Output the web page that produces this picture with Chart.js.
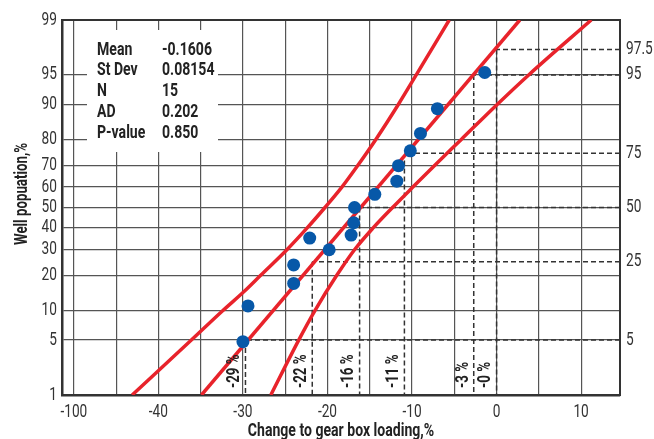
<!DOCTYPE html>
<html>
<head>
<meta charset="utf-8">
<script src="https://cdn.jsdelivr.net/npm/chart.js@4.4.1/dist/chart.umd.min.js"></script>
<style>
  body { margin: 0; background: #fff; }
  #wrap { width: 654px; height: 439px; }
</style>
</head>
<body>
<div id="wrap"><canvas id="probChart"></canvas></div>
<script>
// normal probability plot - gear box loading

// ---- data ----
// observations: x = change (%), y = cumulative percent
const obsX = [-30.0, -29.4, -24.0, -24.0, -22.1, -19.8, -17.2, -16.9, -16.8, -14.4, -11.8, -11.6, -10.2, -9.0, -7.0, -1.4];
const obsP = [4.8, 11.1, 17.3, 23.8, 35.2, 30.0, 36.6, 42.5, 50.0, 56.5, 62.8, 69.8, 75.9, 82.1, 89.0, 95.3];

// fitted line (ends at 1% and 99%)
const fitX = [-34.9, 2.75];
const fitP = [1, 99];

// confidence bands
const upperP = [1, 5, 10, 15, 20, 30, 40, 50, 60, 70, 80, 90, 95, 99];
const upperX = [-43.1, -36.1, -32.4, -29.8, -27.9, -24.8, -22.4, -20.3, -18.3, -16.4, -14.3, -11.6, -9.5, -5.6];
const lowerP = [1, 5, 10, 20, 30, 40, 50, 60, 70, 80, 90, 95, 99];
const lowerX = [-26.7, -23.4, -21.5, -18.9, -16.8, -14.6, -12.3, -9.9, -7.3, -4.2, 0.1, 3.8, 11.2];

// dashed reference lines
const refP = [5, 25, 50, 75, 95, 97.5];
const refHX = [-29.7, -21.8, -16.2, -9.8, -2.7, 0];   // where the horizontal dash starts
const refVX = [-29.7, -21.8, -16.2, -10.9, -2.7, 0];  // vertical dash position
const refVTop = [5, 25, 50, 72, 95, 97.5];
const refLabels = ["-29 %", "-22 %", "-16 %", "-11 %", "-3 %", "-0 %"];

// stats box
const statNames = ["Mean", "St Dev", "N", "AD", "P-value"];
const statValues = ["-0.1606", "0.08154", "15", "0.202", "0.850"];

// axes
const xGridValues = [-50, -45, -40, -35, -30, -25, -20, -15, -10, -5, 0, 5, 10];
const xTickValues = [-50, -40, -30, -20, -10, 0, 10];
const xTickText = ["-100", "-40", "-30", "-20", "-10", "0", "10"];
const yTicks = [1, 5, 10, 20, 30, 40, 50, 60, 70, 80, 90, 95, 99];
const rightTicks = [5, 25, 50, 75, 95, 97.5];

const FONT = "Roboto, 'Liberation Sans', sans-serif";
const SQUEEZE = 0.76; // no condensed font installed, so text is narrowed
const RED = "#e8232b";
const BLUE = "#0758a8";
const DASH = "#333";

// inverse normal cdf (Acklam)
function qnorm(p) {
    const a = [-3.969683028665376e+01, 2.209460984245205e+02, -2.759285104469687e+02, 1.383577518672690e+02, -3.066479806614716e+01, 2.506628277459239e+00];
    const b = [-5.447609879822406e+01, 1.615858368580409e+02, -1.556989798598866e+02, 6.680131188771972e+01, -1.328068155288572e+01];
    const c = [-7.784894002430293e-03, -3.223964580411365e-01, -2.400758277161838e+00, -2.549732539343734e+00, 4.374664141464968e+00, 2.938163982698783e+00];
    const d = [7.784695709041462e-03, 3.224671290700398e-01, 2.445134137142996e+00, 3.754408661907416e+00];
    const plow = 0.02425;
    let q, r;
    if (p < plow) {
        q = Math.sqrt(-2 * Math.log(p));
        return (((((c[0]*q+c[1])*q+c[2])*q+c[3])*q+c[4])*q+c[5]) / ((((d[0]*q+d[1])*q+d[2])*q+d[3])*q+1);
    }
    if (p > 1 - plow) {
        q = Math.sqrt(-2 * Math.log(1 - p));
        return -(((((c[0]*q+c[1])*q+c[2])*q+c[3])*q+c[4])*q+c[5]) / ((((d[0]*q+d[1])*q+d[2])*q+d[3])*q+1);
    }
    q = p - 0.5; r = q * q;
    return (((((a[0]*r+a[1])*r+a[2])*r+a[3])*r+a[4])*r+a[5])*q / (((((b[0]*r+b[1])*r+b[2])*r+b[3])*r+b[4])*r+1);
}

// probability scale: values are percents, spaced by normal quantile
class ProbabilityScale extends Chart.LinearScale {
    determineDataLimits() {
        this.min = this.options.min;
        this.max = this.options.max;
    }
    buildTicks() {
        return this.options.tickValues.map(v => ({ value: v }));
    }
    getPixelForValue(value) {
        const lo = qnorm(this.min / 100), hi = qnorm(this.max / 100);
        return this.getPixelForDecimal((qnorm(value / 100) - lo) / (hi - lo));
    }
}
ProbabilityScale.id = "probability";
ProbabilityScale.defaults = {};
Chart.register(ProbabilityScale);

function pts(xs, ps) {
    return xs.map((x, i) => ({ x: x, y: ps[i] }));
}

const X_MAX = 14.6;

// build the datasets
const bandStyle = { type: "line", borderColor: RED, borderWidth: 3.5, pointRadius: 0, cubicInterpolationMode: "monotone" };
const datasets = [
    { type: "scatter", data: pts(obsX, obsP), backgroundColor: BLUE, pointRadius: 6.5, borderWidth: 0 },
    { type: "line", data: pts(fitX, fitP), borderColor: RED, borderWidth: 3.5, pointRadius: 0 },
    Object.assign({ data: pts(upperX, upperP) }, bandStyle),
    Object.assign({ data: pts(lowerX, lowerP) }, bandStyle)
];
refP.forEach((p, i) => {
    datasets.push({ type: "line", data: [{ x: X_MAX, y: p }, { x: refHX[i], y: p }],
        borderColor: DASH, borderWidth: 1.5, borderDash: [5, 3], pointRadius: 0 });
    datasets.push({ type: "line", data: [{ x: refVX[i], y: refVTop[i] }, { x: refVX[i], y: 1 }],
        borderColor: DASH, borderWidth: 1.5, borderDash: [5, 3], pointRadius: 0 });
});

// narrow every fillText on the chart canvas
const squeezeText = {
    id: "squeezeText",
    beforeDraw(chart) {
        const ctx = chart.ctx;
        if (ctx._squeezed) return;
        const orig = ctx.fillText;
        ctx.fillText = function (t, x, y, maxW) {
            let w = this.measureText(t).width * SQUEEZE;
            if (maxW !== undefined) w = Math.min(w, maxW);
            orig.call(this, t, x, y, w);
        };
        ctx._squeezed = true;
    }
};

// stats box + y title + rotated % labels
const extras = {
    id: "extras",
    beforeDatasetsDraw(chart) {
        const ctx = chart.ctx;
        ctx.save();
        ctx.fillStyle = "#fff";
        ctx.fillRect(87, 30, 131, 122);
        ctx.fillStyle = "#222";
        ctx.font = "bold 18.5px " + FONT;
        ctx.textBaseline = "middle";
        statNames.forEach((s, i) => {
            ctx.fillText(s, 97, 50 + i * 20.8);
            ctx.fillText(statValues[i], 162, 50 + i * 20.8);
        });
        ctx.restore();
    },
    afterDatasetsDraw(chart) {
        const ctx = chart.ctx;
        const xs = chart.scales.x;
        ctx.save();
        ctx.fillStyle = "#222";
        ctx.font = "bold 17.5px " + FONT;
        ctx.textBaseline = "middle";
        ctx.textAlign = "left";
        refLabels.forEach((t, i) => {
            ctx.save();
            ctx.translate(xs.getPixelForValue(refVX[i]) - 10.5, chart.chartArea.bottom - 7);
            ctx.rotate(-Math.PI / 2);
            ctx.fillText(t, 0, 0);
            ctx.restore();
        });
        // y axis title
        ctx.font = "bold 17.5px " + FONT;
        ctx.textAlign = "center";
        ctx.translate(23, 194);
        ctx.rotate(-Math.PI / 2);
        ctx.fillText("Well popuation,%", 0, 0);
        ctx.restore();
    }
};

Chart.defaults.font.family = FONT;
Chart.defaults.color = "#333";

new Chart(document.getElementById("probChart"), {
    data: { datasets: datasets },
    plugins: [squeezeText, extras],
    options: {
        responsive: true,
        maintainAspectRatio: false,
        animation: false,
        events: [],
        layout: { padding: { top: 20 } },
        plugins: { legend: { display: false }, tooltip: { enabled: false } },
        scales: {
            x: {
                type: "linear", position: "bottom", min: -51.4, max: X_MAX,
                afterBuildTicks: s => { s.ticks = xGridValues.map(v => ({ value: v })); },
                ticks: {
                    autoSkip: false, maxRotation: 0, padding: 7, font: { size: 18 }, color: "#333",
                    callback: v => { const i = xTickValues.indexOf(v); return i < 0 ? "" : xTickText[i]; }
                },
                grid: { color: "#555", lineWidth: 1.2, drawTicks: false },
                border: { color: "#333", width: 2.5 },
                title: { display: true, text: "Change to gear box loading,%", font: { size: 18.5, weight: "bold" }, color: "#222", padding: { top: 0, bottom: -3 } },
                afterFit: s => { s.height = 44; }
            },
            xTop: {
                type: "linear", position: "top", min: -51.4, max: X_MAX,
                ticks: { display: false }, grid: { display: false, drawTicks: false },
                border: { color: "#333", width: 2 },
                afterFit: s => { s.height = 0; }
            },
            y: {
                type: "probability", position: "left", min: 1, max: 99, tickValues: yTicks,
                ticks: { padding: 5, font: { size: 18 }, color: "#333", autoSkip: false, callback: v => String(v) },
                grid: { color: "#555", lineWidth: 1.2, drawTicks: false },
                border: { color: "#333", width: 2.5 },
                afterFit: s => { s.width = 62; }
            },
            yRight: {
                type: "probability", position: "right", min: 1, max: 99, tickValues: rightTicks,
                ticks: { padding: 6, font: { size: 18 }, color: "#333", autoSkip: false, callback: v => String(v) },
                grid: { display: false, drawTicks: false },
                border: { color: "#333", width: 2 },
                afterFit: s => { s.width = 34; }
            }
        }
    }
});
</script>
</body>
</html>
